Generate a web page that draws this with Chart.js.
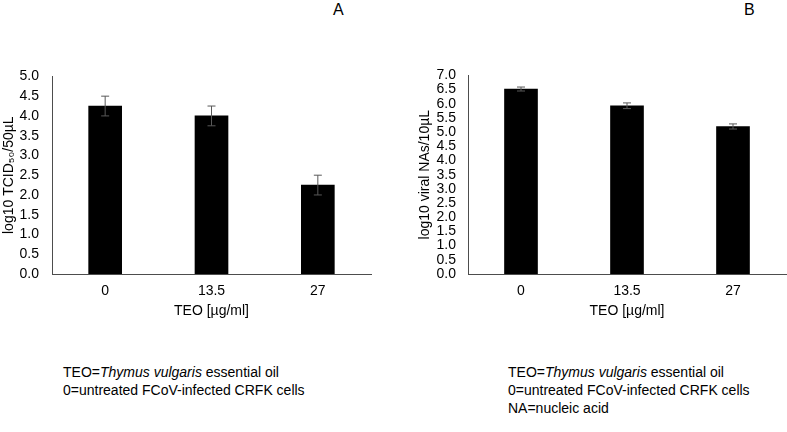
<!DOCTYPE html>
<html>
<head>
<meta charset="utf-8">
<script src="https://cdn.jsdelivr.net/npm/chart.js@4"></script>
<style>
  body { margin: 0; width: 787px; height: 432px; background: #fff; position: relative; overflow: hidden;
         font-family: "Liberation Sans", Arial, sans-serif; color: #000; }
  .panel { position: absolute; font-size: 16px; line-height: 16px; }
  .box { position: absolute; }
  .notes { position: absolute; font-size: 14px; line-height: 18px; }
</style>
</head>
<body>
<div class="panel" style="left:333px; top:2px;">A</div>
<div class="panel" style="left:744px; top:2px;">B</div>

<div class="box" style="left:0; top:55px;"><canvas id="chartA" width="372" height="270"></canvas></div>
<div class="box" style="left:415px; top:55px;"><canvas id="chartB" width="372" height="270"></canvas></div>

<div class="notes" style="left:63px; top:363px;">
  TEO=<i>Thymus vulgaris</i> essential oil<br>
  0=untreated FCoV-infected CRFK cells
</div>
<div class="notes" style="left:508px; top:363px;">
  TEO=<i>Thymus vulgaris</i> essential oil<br>
  0=untreated FCoV-infected CRFK cells<br>
  NA=nucleic acid
</div>

<script>
// data
const doses = ["0", "13.5", "27"];
const titerA = [4.25, 4.0, 2.25];
const titerErrA = [0.25, 0.25, 0.25];
const nucleicB = [6.52, 5.93, 5.2];
const nucleicErrB = [0.07, 0.1, 0.09];

Chart.defaults.color = "#000";
Chart.defaults.font.family = "'Liberation Sans', Arial, sans-serif";
Chart.defaults.font.size = 14;

// simple error bar drawing on top of the bars
const errorBars = {
  id: "errorBars",
  afterDatasetsDraw(chart) {
    const ctx = chart.ctx;
    const yScale = chart.scales.y;
    chart.data.datasets.forEach((ds, i) => {
      const meta = chart.getDatasetMeta(i);
      meta.data.forEach((bar, j) => {
        const v = ds.data[j];
        const e = ds.errors[j];
        const top = yScale.getPixelForValue(v + e);
        const bot = yScale.getPixelForValue(v - e);
        ctx.save();
        ctx.strokeStyle = "#595959";
        ctx.lineWidth = 1;
        ctx.beginPath();
        ctx.moveTo(bar.x, top);
        ctx.lineTo(bar.x, bot);
        ctx.moveTo(bar.x - 4, top);
        ctx.lineTo(bar.x + 4, top);
        ctx.moveTo(bar.x - 4, bot);
        ctx.lineTo(bar.x + 4, bot);
        ctx.stroke();
        ctx.restore();
      });
    });
  }
};

function makeChart(id, values, errors, yMax, yTitle, yWidth, titlePad, tickPad) {
  return new Chart(document.getElementById(id), {
    type: "bar",
    data: {
      labels: doses,
      datasets: [{
        data: values,
        errors: errors,
        backgroundColor: "#000",
        borderWidth: 0,
        barThickness: 33
      }]
    },
    options: {
      responsive: false,
      animation: false,
      layout: { padding: { top: 16, right: 1, left: 0, bottom: 0 } },
      plugins: { legend: { display: false }, tooltip: { enabled: false } },
      scales: {
        x: {
          grid: { display: false, drawTicks: false },
          border: { display: true, color: "#4d4d4d", width: 1 },
          ticks: { padding: 9 },
          title: { display: true, text: "TEO [µg/ml]", padding: { top: 0, bottom: 5 } },
          afterFit(scale) { scale.height = 51; }
        },
        y: {
          min: 0,
          max: yMax,
          grid: { display: false, drawTicks: false },
          border: { display: true, color: "#4d4d4d", width: 1 },
          ticks: {
            stepSize: 0.5,
            autoSkip: false,
            padding: tickPad,
            callback: v => v.toFixed(1)
          },
          title: { display: true, text: yTitle, padding: { top: titlePad, bottom: 0 } },
          afterFit(scale) { scale.width = yWidth; }
        }
      }
    },
    plugins: [errorBars]
  });
}

makeChart("chartA", titerA, titerErrA, 5, "log10 TCID₅₀/50µL", 52, 1, 13);
makeChart("chartB", nucleicB, nucleicErrB, 7, "log10 viral NAs/10µL", 53, 2, 12);
</script>
</body>
</html>
